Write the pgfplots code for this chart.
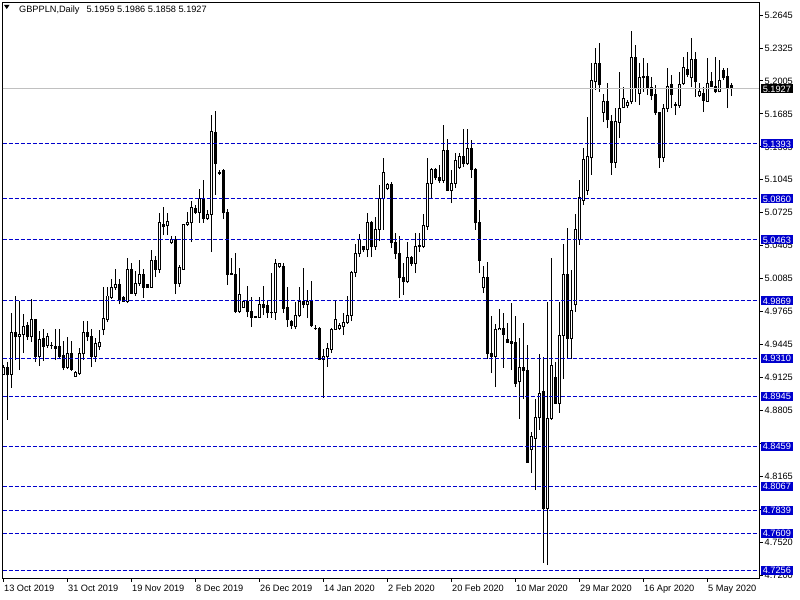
\documentclass[border=0pt]{standalone}
\usepackage{pgfplots}
\pgfplotsset{compat=1.18}
\usepackage{pgfplotstable}
\usepackage{fontspec}
\setmainfont{Liberation Sans}
\definecolor{lvblue}{RGB}{0,0,205}
\definecolor{bidgray}{RGB}{192,192,192}

\pgfplotstableread{
x o h l c
0 4.9159 4.9247 4.9150 4.9227
1 4.9218 4.9276 4.8713 4.9150
2 4.9159 4.9752 4.9024 4.9558
3 4.9558 4.9917 4.9295 4.9519
4 4.9519 4.9868 4.9198 4.9548
5 4.9548 4.9742 4.9363 4.9616
6 4.9626 4.9664 4.9490 4.9519
7 4.9519 4.9888 4.9470 4.9684
8 4.9684 4.9690 4.9276 4.9325
9 4.9325 4.9577 4.9237 4.9499
10 4.9509 4.9596 4.9286 4.9431
11 4.9441 4.9558 4.9412 4.9519
12 4.9441 4.9470 4.9402 4.9437
13 4.9431 4.9596 4.9295 4.9412
14 4.9431 4.9596 4.9305 4.9334
15 4.9344 4.9480 4.9198 4.9218
16 4.9227 4.9519 4.9208 4.9354
17 4.9354 4.9480 4.9189 4.9208
18 4.9140 4.9189 4.9130 4.9179
19 4.9169 4.9412 4.9150 4.9363
20 4.9354 4.9674 4.9295 4.9558
21 4.9558 4.9674 4.9480 4.9519
22 4.9519 4.9596 4.9227 4.9325
23 4.9325 4.9509 4.9276 4.9451
24 4.9422 4.9587 4.9392 4.9470
25 4.9587 5.0004 4.9538 4.9703
26 4.9684 5.0004 4.9664 4.9917
27 4.9907 5.0082 4.9888 5.0004
28 4.9995 5.0179 4.9975 5.0024
29 5.0024 5.0082 4.9839 4.9878
30 4.9907 4.9917 4.9859 4.9868
31 4.9868 5.0286 4.9849 5.0179
32 5.0179 5.0237 4.9936 4.9946
33 4.9946 5.0160 4.9917 5.0043
34 5.0043 5.0266 5.0014 5.0121
35 5.0121 5.0179 4.9897 5.0004
36 5.0024 5.0033 4.9995 5.0004
37 5.0004 5.0364 4.9995 5.0266
38 5.0257 5.0305 5.0101 5.0179
39 5.0179 5.0723 5.0140 5.0626
40 5.0616 5.0781 5.0509 5.0587
41 5.0597 5.0723 5.0509 5.0645
42 5.0432 5.0499 5.0422 5.0470
43 5.0461 5.0499 4.9936 5.0043
44 5.0043 5.0218 5.0004 5.0189
45 5.0179 5.0620 5.0170 5.0616
46 5.0616 5.0732 5.0597 5.0635
47 5.0626 5.0839 5.0441 5.0781
48 5.0762 5.0800 5.0713 5.0732
49 5.0732 5.0956 5.0626 5.0859
50 5.0859 5.1043 5.0626 5.0674
51 5.0674 5.0752 5.0655 5.0713
52 5.0713 5.1674 5.0344 5.1519
53 5.1500 5.1713 5.0898 5.1208
54 5.1121 5.1140 5.1092 5.1111
55 5.1140 5.1150 5.0664 5.0723
56 5.0732 5.0762 5.0024 5.0130
57 5.0135 5.0286 5.0121 5.0130
58 5.0130 5.0334 4.9752 4.9771
59 4.9771 5.0189 4.9752 4.9936
60 4.9810 4.9878 4.9800 4.9859
61 4.9859 5.0014 4.9713 4.9762
62 4.9762 4.9907 4.9616 4.9713
63 4.9713 4.9723 4.9703 4.9715
64 4.9713 4.9907 4.9703 4.9839
65 4.9839 5.0014 4.9732 4.9810
66 4.9820 4.9878 4.9703 4.9752
67 4.9752 5.0140 4.9703 4.9755
68 4.9752 5.0276 4.9684 5.0237
69 5.0199 5.0237 5.0189 5.0228
70 5.0208 5.0237 4.9752 4.9800
71 4.9810 5.0004 4.9616 4.9684
72 4.9674 4.9684 4.9596 4.9626
73 4.9616 4.9859 4.9596 4.9723
74 4.9723 5.0004 4.9713 4.9859
75 4.9859 5.0189 4.9800 4.9839
76 4.9839 4.9975 4.9703 4.9859
77 4.9859 5.0062 4.9616 4.9626
78 4.9606 4.9635 4.9587 4.9600
79 4.9606 4.9616 4.9295 4.9305
80 4.9305 4.9402 4.8926 4.9334
81 4.9325 4.9460 4.9227 4.9412
82 4.9402 4.9606 4.9363 4.9596
83 4.9596 4.9878 4.9587 4.9684
84 4.9606 4.9655 4.9587 4.9626
85 4.9616 4.9752 4.9538 4.9655
86 4.9655 4.9917 4.9645 4.9732
87 4.9732 5.0160 4.9674 5.0150
88 5.0150 5.0422 5.0101 5.0325
89 5.0325 5.0519 5.0295 5.0461
90 5.0393 5.0402 5.0344 5.0364
91 5.0364 5.0723 5.0295 5.0626
92 5.0626 5.0645 5.0295 5.0393
93 5.0393 5.0684 5.0364 5.0567
94 5.0567 5.0995 5.0451 5.0859
95 5.0859 5.1257 5.0558 5.1121
96 5.0956 5.1014 5.0946 5.1004
97 5.1004 5.1024 5.0383 5.0432
98 5.0432 5.0529 5.0276 5.0334
99 5.0334 5.0499 4.9897 5.0092
100 5.0101 5.0237 4.9927 5.0053
101 5.0053 5.0441 5.0043 5.0286
102 5.0286 5.0305 5.0208 5.0237
103 5.0237 5.0529 5.0140 5.0393
104 5.0412 5.0529 5.0344 5.0393
105 5.0402 5.0713 5.0383 5.0606
106 5.0587 5.1257 5.0558 5.1014
107 5.1014 5.1160 5.0859 5.1150
108 5.1150 5.1160 5.1043 5.1063
109 5.1063 5.1189 5.1014 5.1034
110 5.1043 5.1577 5.1014 5.1325
111 5.1325 5.1441 5.0936 5.0946
112 5.0946 5.1140 5.0820 5.1014
113 5.1014 5.1305 5.0965 5.1228
114 5.1160 5.1305 5.1150 5.1276
115 5.1276 5.1538 5.1169 5.1199
116 5.1199 5.1538 5.1189 5.1354
117 5.1354 5.1432 5.1063 5.1150
118 5.1150 5.1160 5.0558 5.0626
119 5.0626 5.0752 5.0140 5.0266
120 4.9995 5.0208 4.9946 5.0101
121 5.0101 5.0247 4.9305 4.9363
122 4.9363 4.9723 4.9169 4.9325
123 4.9334 4.9645 4.9033 4.9596
124 4.9587 4.9791 4.9587 4.9606
125 4.9606 4.9752 4.9218 4.9548
126 4.9499 4.9655 4.9460 4.9470
127 4.9480 4.9849 4.9198 4.9460
128 4.9470 4.9723 4.9033 4.9072
129 4.9082 4.9509 4.8723 4.9218
130 4.9218 4.9655 4.8917 4.9189
131 4.9198 4.9441 4.8296 4.8305
132 4.8431 4.8596 4.8198 4.8548
133 4.8538 4.8917 4.8033 4.8742
134 4.8742 4.9354 4.8616 4.8975
135 4.8985 4.9325 4.7324 4.7858
136 4.7858 4.9859 4.7305 4.8732
137 4.8732 5.0286 4.8713 4.9247
138 4.9130 4.9276 4.8868 4.8878
139 4.8878 4.9859 4.8781 4.9538
140 4.9538 5.0422 4.9111 5.0130
141 5.0130 5.0577 4.9315 4.9509
142 4.9509 5.0169 4.9305 4.9781
143 4.9830 5.0713 4.9762 5.0558
144 5.0461 5.1043 5.0412 5.0878
145 5.0849 5.1354 5.0800 5.1238
146 5.0946 5.1655 5.0898 5.1267
147 5.1257 5.2179 5.1092 5.2005
148 5.1995 5.2325 5.1917 5.2170
149 5.2170 5.2373 5.1898 5.1966
150 5.1703 5.1878 5.1606 5.1801
151 5.1801 5.1985 5.1548 5.1626
152 5.1616 5.1674 5.1092 5.1218
153 5.1218 5.1742 5.1160 5.1616
154 5.1606 5.2092 5.1451 5.1742
155 5.1752 5.1946 5.1742 5.1839
156 5.1762 5.1820 5.1742 5.1791
157 5.1801 5.2490 5.1781 5.2228
158 5.2228 5.2354 5.1801 5.1937
159 5.1888 5.2179 5.1771 5.2034
160 5.2044 5.2228 5.1898 5.2034
161 5.2053 5.2179 5.1869 5.1946
162 5.1946 5.2044 5.1820 5.1859
163 5.1869 5.1966 5.1674 5.1694
164 5.1694 5.1703 5.1160 5.1257
165 5.1257 5.1781 5.1218 5.1733
166 5.1733 5.2131 5.1703 5.1956
167 5.1966 5.2063 5.1742 5.1869
168 5.1771 5.1801 5.1674 5.1772
169 5.1762 5.2092 5.1742 5.1975
170 5.1985 5.2238 5.1966 5.2131
171 5.2121 5.2286 5.2044 5.2072
172 5.2034 5.2422 5.1946 5.2218
173 5.2218 5.2286 5.1849 5.1995
174 5.1859 5.1985 5.1849 5.1898
175 5.1888 5.1946 5.1703 5.1820
176 5.1810 5.2228 5.1801 5.1985
177 5.1995 5.2092 5.1946 5.1956
178 5.1956 5.2238 5.1888 5.1898
179 5.1898 5.2208 5.1893 5.2014
180 5.2102 5.2131 5.2014 5.2034
181 5.2044 5.2131 5.1742 5.1946
182 5.1959 5.1986 5.1858 5.1927
}\candles

\tikzset{lbl/.style={anchor=west, inner xsep=1.6bp, inner ysep=1.2bp, text height=6.6bp, text depth=0pt, text=white, font=\fontsize{9.2bp}{11bp}\selectfont}}

\begin{document}
\fontsize{9.2bp}{11bp}\selectfont
\begin{tikzpicture}[x=1bp,y=1bp]
\path[use as bounding box] (0,0) rectangle (800,600);
\begin{axis}[
  at={(2.5bp,21.5bp)}, anchor=south west,
  scale only axis, width=756.5bp, height=576bp,
  xmin=-0.25, xmax=188.875, ymin=4.7174, ymax=5.2767,
  axis line style={black, line width=1bp},
  tick align=outside, major tick length=3.5bp,
  tick style={black, line width=1bp},
  xtick pos=bottom, ytick pos=right, yticklabel pos=right,
  xtick={0,16,32,48,64,80,96,112,128,144,160,176},
  xticklabels={13 Oct 2019,31 Oct 2019,19 Nov 2019,8 Dec 2019,26 Dec 2019,14 Jan 2020,2 Feb 2020,20 Feb 2020,10 Mar 2020,29 Mar 2020,16 Apr 2020,5 May 2020},
  ytick={5.2645,5.2325,5.2005,5.1685,5.1365,5.1045,5.0725,5.0405,5.0085,4.9765,4.9445,4.9125,4.8805,4.8485,4.8165,4.7845,4.7525,4.7205},
  yticklabels={5.2645,5.2325,5.2005,5.1685,5.1365,5.1045,5.0725,5.0405,5.0085,4.9765,4.9445,4.9125,4.8805,{},4.8165,{},4.7520,4.7200},
  every tick label/.append style={font=\fontsize{9.2bp}{11bp}\selectfont},
  xticklabel style={anchor=north west, inner sep=0pt, xshift=0.5bp, yshift=-3bp},
  yticklabel style={anchor=west, inner sep=0pt, xshift=2bp},
  error bars/error mark=none,
]
% wicks
\addplot[draw=none, no markers, forget plot, error bars/.cd, y dir=plus, y explicit,
  error bar style={draw=black, line width=1bp, line cap=butt}]
  table[x=x, y=l, y error expr={\thisrow{h}-\thisrow{l}}] {\candles};
% bodies (outline / filled)
\addplot[draw=none, no markers, forget plot, error bars/.cd, y dir=plus, y explicit,
  error bar style={draw=black, line width=3bp, line cap=butt}]
  table[x=x, y expr={min(\thisrow{o},\thisrow{c})-0.000485}, y error expr={abs(\thisrow{c}-\thisrow{o})+0.00097}] {\candles};
% hollow interior of rising candles
\addplot[draw=none, no markers, forget plot, error bars/.cd, y dir=plus, y explicit,
  error bar style={draw=white, line width=1bp, line cap=butt}]
  table[x=x, y expr={\thisrow{o}+0.000485}, y error expr={(\thisrow{c}>\thisrow{o}) ? max(\thisrow{c}-\thisrow{o}-0.00097,0) : 0}] {\candles};
% levels
\pgfplotsinvokeforeach{5.1393,5.0860,5.0463,4.9869,4.9310,4.8945,4.8459,4.8067,4.7839,4.7609,4.7256}{
  \addplot[lvblue, line width=1bp, dash pattern=on 4bp off 2bp] coordinates {(-0.25,#1) (188.875,#1)};
}
\addplot[bidgray, line width=1bp] coordinates {(-0.25,5.1927) (188.875,5.1927)};
\coordinate (B0) at (axis cs:188.875,5.1927);
\coordinate (L1) at (axis cs:188.875,5.1393);
\coordinate (L2) at (axis cs:188.875,5.0860);
\coordinate (L3) at (axis cs:188.875,5.0463);
\coordinate (L4) at (axis cs:188.875,4.9869);
\coordinate (L5) at (axis cs:188.875,4.9310);
\coordinate (L6) at (axis cs:188.875,4.8945);
\coordinate (L7) at (axis cs:188.875,4.8459);
\coordinate (L8) at (axis cs:188.875,4.8067);
\coordinate (L9) at (axis cs:188.875,4.7839);
\coordinate (L10) at (axis cs:188.875,4.7609);
\coordinate (L11) at (axis cs:188.875,4.7256);
\end{axis}
\node[lbl, fill=black] at ([xshift=2bp]B0) {5.1927};
\node[lbl, fill=lvblue] at ([xshift=2bp]L1) {5.1393};
\node[lbl, fill=lvblue] at ([xshift=2bp]L2) {5.0860};
\node[lbl, fill=lvblue] at ([xshift=2bp]L3) {5.0463};
\node[lbl, fill=lvblue] at ([xshift=2bp]L4) {4.9869};
\node[lbl, fill=lvblue] at ([xshift=2bp]L5) {4.9310};
\node[lbl, fill=lvblue] at ([xshift=2bp]L6) {4.8945};
\node[lbl, fill=lvblue] at ([xshift=2bp]L7) {4.8459};
\node[lbl, fill=lvblue] at ([xshift=2bp]L8) {4.8067};
\node[lbl, fill=lvblue] at ([xshift=2bp]L9) {4.7839};
\node[lbl, fill=lvblue] at ([xshift=2bp]L10) {4.7609};
\node[lbl, fill=lvblue] at ([xshift=2bp]L11) {4.7256};
% title
\fill[black] (4,595) -- (9.5,595) -- (6.75,591) -- cycle;
\node[anchor=base west, inner sep=0pt] at (19,587) {GBPPLN,Daily\hspace{7bp}5.1959 5.1986 5.1858 5.1927};
\end{tikzpicture}
\end{document}
